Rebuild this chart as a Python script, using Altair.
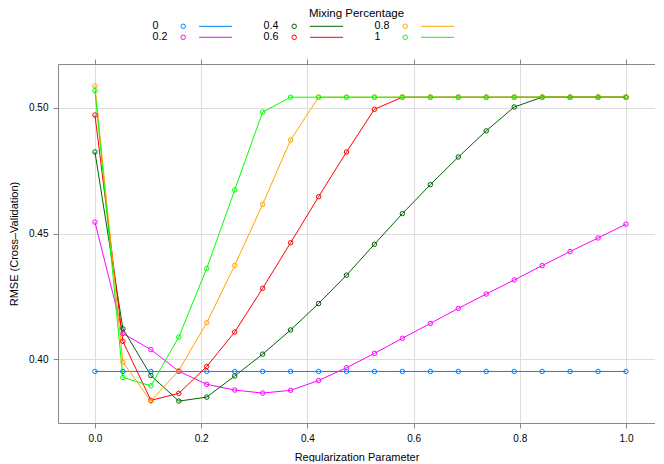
import altair as alt
import pandas as pd

# ---- data ----
reg_param = [0.0, 0.0526, 0.1053, 0.1579, 0.2105, 0.2632, 0.3158, 0.3684, 0.4211, 0.4737,
             0.5263, 0.5789, 0.6316, 0.6842, 0.7368, 0.7895, 0.8421, 0.8947, 0.9474, 1.0]

mixing = ["0", "0.2", "0.4", "0.6", "0.8", "1"]
colors = ["#0080ff", "#ff00ff", "#006400", "#ff0000", "#ffa500", "#00ff00"]

rmse_0 = [0.3952, 0.3952, 0.3952, 0.3952, 0.3952, 0.3952, 0.3952, 0.3952, 0.3952, 0.3952,
          0.3952, 0.3952, 0.3952, 0.3952, 0.3952, 0.3952, 0.3952, 0.3952, 0.3952, 0.3952]
rmse_02 = [0.4546, 0.4103, 0.4039, 0.3953, 0.3901, 0.3878, 0.3866, 0.3877, 0.3916, 0.3967,
           0.4024, 0.4084, 0.4143, 0.4203, 0.4260, 0.4316, 0.4373, 0.4429, 0.4483, 0.4538]
rmse_04 = [0.4825, 0.4122, 0.3936, 0.3834, 0.3850, 0.3934, 0.4021, 0.4117, 0.4222, 0.4335,
           0.4458, 0.4580, 0.4695, 0.4805, 0.4909, 0.5004, 0.5043, 0.5043, 0.5043, 0.5043]
rmse_06 = [0.4972, 0.4072, 0.3837, 0.3865, 0.3972, 0.4109, 0.4283, 0.4464, 0.4647, 0.4825,
           0.4995, 0.5043, 0.5043, 0.5043, 0.5043, 0.5043, 0.5043, 0.5043, 0.5043, 0.5043]
rmse_08 = [0.5088, 0.3989, 0.3834, 0.3956, 0.4146, 0.4374, 0.4617, 0.4873, 0.5043, 0.5043,
           0.5043, 0.5043, 0.5043, 0.5043, 0.5043, 0.5043, 0.5043, 0.5043, 0.5043, 0.5043]
rmse_1 = [0.5069, 0.3928, 0.3895, 0.4089, 0.4362, 0.4674, 0.4984, 0.5043, 0.5043, 0.5043,
          0.5043, 0.5043, 0.5043, 0.5043, 0.5043, 0.5043, 0.5043, 0.5043, 0.5043, 0.5043]

series = [rmse_0, rmse_02, rmse_04, rmse_06, rmse_08, rmse_1]

x_ticks = [0.0, 0.2, 0.4, 0.6, 0.8, 1.0]
y_ticks = [0.40, 0.45, 0.50]

# legend layout: lattice key fills columns first (2 rows x 3 columns)
legend_col = [0, 0, 1, 1, 2, 2]
legend_row = [0, 1, 0, 1, 0, 1]

rows = []
for m, vals in zip(mixing, series):
    for xv, yv in zip(reg_param, vals):
        rows.append({"reg": xv, "rmse": yv, "mix": m})
df = pd.DataFrame(rows)

leg_df = pd.DataFrame({"mix": mixing, "col": legend_col, "row": legend_row})

FONT = "Liberation Sans"
W, H = 597, 359

xscale = alt.Scale(domain=[-0.0696, 1.0546], nice=False, zero=False)
yscale = alt.Scale(domain=[0.3747, 0.5175], nice=False, zero=False)
cscale = alt.Scale(domain=mixing, range=colors)

x_bottom = alt.X("reg:Q", scale=xscale,
                 axis=alt.Axis(values=x_ticks, format=".1f", title="Regularization Parameter",
                               orient="bottom", titlePadding=8, labelPadding=5,
                               titleFontWeight="normal"))
y_left = alt.Y("rmse:Q", scale=yscale,
               axis=alt.Axis(values=y_ticks, format=".2f", title="RMSE (Cross–Validation)",
                             orient="left", titlePadding=9, labelPadding=5,
                             titleFontWeight="normal"))
color = alt.Color("mix:N", scale=cscale, legend=None)

base = alt.Chart(df)
lines = base.mark_line(strokeWidth=1).encode(x=x_bottom, y=y_left, color=color)
points = base.mark_point(shape="circle", filled=False, size=20, strokeWidth=1, opacity=1).encode(
    x=alt.X("reg:Q", scale=xscale), y=alt.Y("rmse:Q", scale=yscale), color=color)

# top ticks (no labels), like lattice
top_ticks = base.mark_point(opacity=0).encode(
    x=alt.X("reg:Q", scale=xscale,
            axis=alt.Axis(values=x_ticks, orient="top", labels=False, title=None, grid=False)))

main = alt.layer(lines, points)

# legend (key) drawn above the panel
leg_x = alt.Scale(domain=[0, 2], range=[94.5, 316.5])
leg_y = alt.Scale(domain=[0, 1], range=[-37.7, -26.7])
leg_base = alt.Chart(leg_df)
leg_text = leg_base.mark_text(align="left", baseline="middle", font=FONT, fontSize=10.7,
                              color="black").encode(
    x=alt.X("col:Q", scale=leg_x, axis=None),
    y=alt.Y("row:Q", scale=leg_y, axis=None),
    text="mix:N")
leg_pts = leg_base.mark_point(shape="circle", filled=False, size=20, strokeWidth=1, opacity=1,
                              xOffset=30.7).encode(
    x=alt.X("col:Q", scale=leg_x, axis=None),
    y=alt.Y("row:Q", scale=leg_y, axis=None),
    color=color)
leg_lines = leg_base.mark_rule(strokeWidth=1, xOffset=46.5, x2Offset=79.5).encode(
    x=alt.X("col:Q", scale=leg_x, axis=None),
    x2=alt.X2("col:Q"),
    y=alt.Y("row:Q", scale=leg_y, axis=None),
    color=color)
legend = alt.layer(leg_text, leg_pts, leg_lines)

chart = alt.layer(main, top_ticks, legend).resolve_scale(
    x="independent", y="independent"
).resolve_axis(x="independent", y="independent").properties(
    width=W, height=H,
    padding={"top": 0, "left": 0, "right": 0, "bottom": 0},
    title=alt.TitleParams("Mixing Percentage", anchor="middle", frame="group", offset=0.5,
                          font=FONT, fontSize=11.5, fontWeight="normal", color="black"),
).configure_view(
    fill="#fafafa", stroke="#333333", strokeWidth=1
).configure_axis(
    domain=False, tickColor="#333333", tickSize=5, tickWidth=1,
    labelFont=FONT, labelFontSize=10.5, labelColor="#111111",
    titleFont=FONT, titleFontSize=11.5, titleFontWeight="normal", titleColor="#111111",
    gridColor="#e6e6e6", gridWidth=1,
).configure(background="white")

chart.save("out.html", embed_options={"renderer": "svg", "actions": False})
